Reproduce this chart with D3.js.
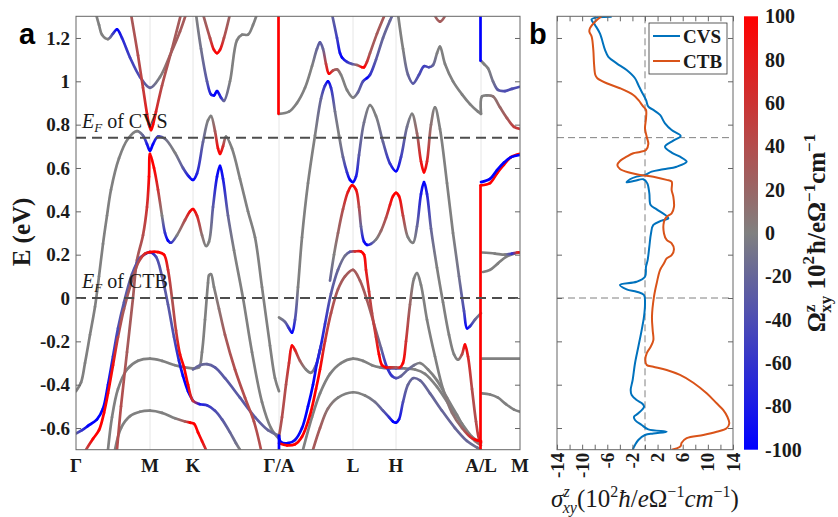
<!DOCTYPE html>
<html><head><meta charset="utf-8">
<script src="https://cdn.jsdelivr.net/npm/d3@7"></script>
<style>body{margin:0;background:#fff}svg{display:block}</style>
</head><body>
<svg id="chart" width="838" height="517"></svg>
<script>
// ---------------- DATA ----------------
const kPoints = [0, 0.74, 1.17, 2.03, 2.77, 3.20, 4.05, 4.44];
const kLabels = ["Γ", "M", "K", "Γ/A", "L", "H", "A/L", "M"];
const eTicks = [-0.6, -0.4, -0.2, 0, 0.2, 0.4, 0.6, 0.8, 1, 1.2];
const fermiLevels = [0.74, 0];
const fermiNames = ["CVS", "CTB"];
const sigmaTicks = [-14,-12,-10,-8,-6,-4,-2,0,2,4,6,8,10,12,14];
const sigmaLabels = [-14,-10,-6,-2,2,6,10,14];
const cbTicks = [100,80,60,40,20,0,-20,-40,-60,-80,-100];

// bands: [k, E (eV), Omega]
const band1 = [[0.20,1.31,0],[0.23,1.26,0],[0.26,1.215,0],[0.32,1.195,0],[0.37,1.22,-50],[0.41,1.24,-100],[0.46,1.2,-70],[0.54,1.11,-50],[0.64,1.02,-40],[0.74,0.97,-20],[0.84,1.02,0],[0.94,1.12,20],[1.04,1.23,30],[1.10,1.31,30]];
const band2 = [[0.55,1.31,30],[0.62,1.12,40],[0.67,0.97,50],[0.71,0.85,80],[0.73,0.80,100],[0.75,0.775,100],[0.77,0.80,100],[0.80,0.86,70],[0.86,0.98,40],[0.96,1.15,30],[1.05,1.31,30]];
const band3 = [[1.27,1.31,20],[1.34,1.2,40],[1.38,1.145,90],[1.41,1.13,100],[1.44,1.145,90],[1.48,1.2,40],[1.54,1.31,20]];
const band4 = [[1.20,1.31,0],[1.25,1.15,-10],[1.31,1.0,-30],[1.35,0.94,-80],[1.38,0.935,-100],[1.41,0.955,-100],[1.45,0.925,-60],[1.48,0.91,-20],[1.54,1.0,0],[1.61,1.19,0],[1.66,1.215,0],[1.72,1.215,0],[1.77,1.26,0],[1.81,1.31,0]];
const band5 = [[0,-0.43,0],[0.05,-0.39,0],[0.09,-0.3,0],[0.14,-0.17,0],[0.19,-0.04,0],[0.23,0.1,0],[0.27,0.25,0],[0.31,0.38,0],[0.35,0.5,0],[0.43,0.645,0],[0.52,0.735,0],[0.61,0.77,0],[0.67,0.75,-20],[0.71,0.71,-80],[0.74,0.68,-100],[0.77,0.71,-100],[0.82,0.745,-50],[0.89,0.735,-10],[0.99,0.67,0],[1.07,0.6,-30],[1.13,0.56,-80],[1.17,0.545,-100],[1.21,0.575,-70],[1.27,0.72,-20],[1.32,0.82,0],[1.35,0.84,0],[1.39,0.77,30],[1.42,0.69,90],[1.44,0.665,100],[1.47,0.70,60],[1.50,0.745,0],[1.56,0.69,0],[1.64,0.55,0],[1.72,0.4,0],[1.79,0.28,0],[1.86,0.05,0],[1.94,-0.22,0],[1.99,-0.37,0],[2.03,-0.43,0]];
const band6 = [[0.41,-0.70,40],[0.45,-0.5,40],[0.51,-0.25,30],[0.57,0.0,30],[0.61,0.175,30],[0.67,0.29,40],[0.71,0.42,60],[0.73,0.56,100],[0.74,0.665,100],[0.78,0.6,100],[0.82,0.5,60],[0.86,0.38,0],[0.89,0.3,-60],[0.92,0.265,-100],[0.95,0.255,-60],[1.01,0.29,0],[1.09,0.36,40],[1.14,0.40,90],[1.17,0.41,100],[1.21,0.38,70],[1.26,0.29,10],[1.30,0.24,0],[1.33,0.26,0],[1.37,0.42,-30],[1.41,0.56,-90],[1.44,0.61,-100],[1.47,0.55,-80],[1.52,0.38,-20],[1.58,0.22,0],[1.67,0.0,0],[1.76,-0.25,0],[1.86,-0.48,0],[1.95,-0.6,0],[2.03,-0.65,0]];
const band7 = [[0,-0.625,-30],[0.06,-0.61,-60],[0.12,-0.59,-100],[0.21,-0.56,-100],[0.27,-0.51,-100],[0.32,-0.4,-90],[0.37,-0.27,-60],[0.42,-0.14,-40],[0.48,-0.02,-30],[0.56,0.11,-30],[0.64,0.185,-40],[0.70,0.205,-60],[0.74,0.212,-90],[0.80,0.19,-40],[0.86,0.1,-30],[0.92,-0.03,-30],[0.98,-0.18,-40],[1.03,-0.29,-70],[1.07,-0.36,-100],[1.12,-0.43,-100],[1.17,-0.475,-100]];
const band8 = [[0.10,-0.70,40],[0.17,-0.65,100],[0.23,-0.61,100],[0.28,-0.53,100],[0.32,-0.44,100],[0.37,-0.31,90],[0.42,-0.18,45],[0.48,-0.05,30],[0.56,0.08,30],[0.63,0.17,40],[0.69,0.205,70],[0.74,0.212,100],[0.82,0.212,100],[0.88,0.2,100],[0.92,0.13,60],[0.96,0.0,35],[1.00,-0.15,50],[1.04,-0.26,90],[1.08,-0.32,100],[1.12,-0.4,100],[1.17,-0.475,60],[1.24,-0.49,-80],[1.31,-0.495,-60],[1.39,-0.52,-40],[1.46,-0.56,-30],[1.54,-0.62,-20],[1.60,-0.67,-10],[1.64,-0.70,0]];
const band9 = [[0.32,-0.70,0],[0.36,-0.55,0],[0.42,-0.42,0],[0.51,-0.33,0],[0.62,-0.29,0],[0.74,-0.28,0],[0.86,-0.29,0],[0.99,-0.31,0],[1.09,-0.32,0],[1.17,-0.325,0],[1.23,-0.32,0],[1.26,-0.25,0],[1.29,-0.1,0],[1.32,0.07,0],[1.33,0.105,0],[1.35,0.11,0],[1.38,0.05,0],[1.43,-0.05,10],[1.49,-0.17,30],[1.59,-0.33,40],[1.69,-0.46,40],[1.78,-0.57,40],[1.85,-0.70,40]];
const band10 = [[1.17,-0.33,-20],[1.24,-0.31,-20],[1.31,-0.305,-20],[1.39,-0.32,-30],[1.49,-0.37,-30],[1.64,-0.46,-30],[1.79,-0.55,-30],[1.92,-0.61,-20],[2.03,-0.635,-10]];
const band11 = [[0.39,-0.70,0],[0.45,-0.6,0],[0.54,-0.545,0],[0.64,-0.525,0],[0.74,-0.52,0],[0.86,-0.53,0],[0.99,-0.555,0],[1.09,-0.57,30],[1.14,-0.575,100],[1.18,-0.58,100],[1.22,-0.62,100],[1.26,-0.66,90],[1.30,-0.70,60]];
const band12 = [[2.025,1.31,100],[2.025,0.85,100]];
const band13 = [[2.03,0.85,0],[2.13,0.86,0],[2.21,0.9,0],[2.29,0.97,0],[2.36,1.07,0],[2.41,1.15,-20],[2.44,1.18,-30],[2.47,1.15,-20],[2.50,1.08,50],[2.53,1.035,100],[2.57,1.05,40],[2.61,1.055,20],[2.65,1.03,0],[2.71,0.96,0],[2.77,0.925,0],[2.82,0.95,-20],[2.87,1.0,-40],[2.91,1.015,-100],[2.94,1.03,-60],[3.00,1.1,-30],[3.07,1.2,-20],[3.14,1.28,-20],[3.17,1.31,-20]];
const band14 = [[2.56,1.31,-20],[2.61,1.2,-50],[2.64,1.13,-90],[2.66,1.11,-100],[2.71,1.09,-60],[2.76,1.08,-30],[2.81,1.075,20],[2.86,1.065,100],[2.88,1.065,100],[2.91,1.09,60],[2.94,1.13,30],[3.01,1.22,30],[3.09,1.31,30]];
const band15 = [[3.22,1.31,0],[3.27,1.15,0],[3.32,1.03,-20],[3.37,0.99,-30],[3.43,1.03,-40],[3.48,1.07,-50],[3.53,1.065,-40],[3.57,1.075,-20],[3.61,1.13,0],[3.64,1.16,0],[3.69,1.08,0],[3.77,1.0,0],[3.86,0.94,0],[3.94,0.895,0],[4.02,0.86,0],[4.05,0.85,0]];
const band16 = [[3.58,1.31,20],[3.64,1.275,30],[3.70,1.31,20]];
const band17 = [[2.03,-0.09,0],[2.09,-0.11,-20],[2.13,-0.14,-60],[2.16,-0.16,-100],[2.19,-0.1,-40],[2.22,0.05,0],[2.26,0.28,0],[2.32,0.53,0],[2.39,0.75,0],[2.45,0.92,-20],[2.49,0.98,-60],[2.52,1.0,-100],[2.55,0.97,-60],[2.59,0.86,-10],[2.63,0.75,0],[2.67,0.65,-20],[2.71,0.58,-60],[2.74,0.545,-100],[2.77,0.535,-100],[2.80,0.56,-80],[2.83,0.66,-30],[2.88,0.81,-10],[2.94,0.89,0],[3.00,0.84,0],[3.07,0.72,-20],[3.14,0.62,-60],[3.20,0.585,-100],[3.25,0.65,-50],[3.31,0.79,-10],[3.36,0.85,0],[3.41,0.76,20],[3.45,0.63,80],[3.48,0.58,100],[3.51,0.63,70],[3.55,0.8,10],[3.59,0.88,0],[3.64,0.78,0],[3.71,0.53,0],[3.77,0.3,0],[3.83,0.1,-10],[3.88,-0.06,-40],[3.91,-0.14,-100],[3.94,-0.13,-60],[3.99,-0.1,-20],[4.05,-0.07,0]];
const band18 = [[2.03,-0.64,30],[2.06,-0.55,40],[2.10,-0.4,40],[2.13,-0.3,60],[2.16,-0.22,100],[2.19,-0.24,70],[2.24,-0.29,30],[2.30,-0.33,0],[2.35,-0.345,0],[2.40,-0.31,-30],[2.44,-0.24,-80],[2.49,-0.12,-60],[2.55,0.02,-30],[2.62,0.13,-20],[2.69,0.195,-10],[2.74,0.213,-30],[2.79,0.215,60],[2.85,0.215,100],[2.88,0.2,100],[2.90,0.13,80],[2.93,0.03,60],[2.96,-0.07,40],[3.00,-0.18,60],[3.03,-0.26,100],[3.06,-0.31,100],[3.10,-0.32,100],[3.15,-0.32,60],[3.20,-0.32,30],[3.24,-0.32,80],[3.27,-0.3,100],[3.30,-0.2,60],[3.34,-0.03,20],[3.38,0.09,0],[3.41,0.115,0],[3.45,0.06,0],[3.51,-0.1,0],[3.59,-0.27,0],[3.67,-0.42,0],[3.76,-0.53,10],[3.86,-0.6,20],[3.94,-0.64,60],[4.00,-0.655,100],[4.05,-0.66,100]];
const band19 = [[2.54,0.08,-20],[2.58,0.2,0],[2.62,0.3,20],[2.67,0.41,40],[2.72,0.49,80],[2.76,0.52,100],[2.80,0.5,90],[2.83,0.42,40],[2.85,0.33,-20],[2.88,0.26,-90],[2.91,0.245,-100],[2.95,0.25,-40],[3.00,0.27,0],[3.05,0.31,20],[3.10,0.37,40],[3.14,0.43,80],[3.17,0.47,100],[3.20,0.485,100],[3.23,0.47,100],[3.27,0.38,50],[3.32,0.28,0],[3.37,0.255,0],[3.41,0.33,-20],[3.45,0.48,-80],[3.48,0.535,-100],[3.51,0.48,-70],[3.55,0.32,-20],[3.61,0.14,0],[3.67,-0.02,0],[3.73,-0.17,0],[3.78,-0.26,0],[3.82,-0.285,0],[3.86,-0.26,40],[3.89,-0.215,100],[3.92,-0.27,70],[3.96,-0.42,40],[4.00,-0.57,40],[4.03,-0.65,60],[4.05,-0.665,80]];
const band20 = [[2.03,-0.64,-100],[2.05,-0.665,-100],[2.12,-0.67,-100],[2.19,-0.655,-90],[2.26,-0.6,-100],[2.32,-0.5,-100],[2.37,-0.4,-100],[2.41,-0.3,-80],[2.45,-0.22,-60]];
const band21 = [[2.03,-0.67,100],[2.11,-0.68,100],[2.19,-0.675,100],[2.26,-0.64,100],[2.34,-0.54,100],[2.40,-0.42,100],[2.44,-0.33,100],[2.49,-0.2,60],[2.55,-0.07,40],[2.62,0.04,30],[2.69,0.1,30],[2.77,0.13,30],[2.84,0.08,30],[2.91,-0.01,30],[2.98,-0.12,20],[3.05,-0.23,-20],[3.11,-0.32,-60],[3.16,-0.36,-60],[3.20,-0.37,-40],[3.25,-0.36,-20],[3.32,-0.33,-20],[3.38,-0.31,-10],[3.44,-0.3,0],[3.52,-0.33,0],[3.61,-0.38,0],[3.71,-0.46,0],[3.81,-0.54,0],[3.91,-0.62,0],[3.99,-0.66,10],[4.05,-0.68,20]];
const band22 = [[2.27,-0.70,0],[2.36,-0.55,0],[2.44,-0.44,0],[2.54,-0.35,0],[2.65,-0.3,0],[2.77,-0.28,0],[2.87,-0.29,0],[2.96,-0.31,0],[3.04,-0.32,0],[3.14,-0.325,-30],[3.20,-0.325,-40],[3.29,-0.325,0],[3.39,-0.33,0],[3.49,-0.35,0],[3.61,-0.41,0],[3.74,-0.5,0],[3.86,-0.58,0],[3.96,-0.64,0],[4.05,-0.67,0]];
const band23 = [[2.37,-0.70,30],[2.44,-0.6,30],[2.52,-0.51,10],[2.62,-0.46,0],[2.77,-0.435,0],[2.89,-0.45,0],[2.99,-0.48,-10],[3.07,-0.52,-30],[3.13,-0.55,-60],[3.17,-0.57,-100],[3.20,-0.575,-100],[3.23,-0.56,-90],[3.27,-0.48,-40],[3.32,-0.4,-20],[3.37,-0.37,-20],[3.44,-0.38,-20],[3.54,-0.44,-20],[3.66,-0.52,-20],[3.79,-0.6,-20],[3.91,-0.66,-20],[4.01,-0.69,-10],[4.05,-0.70,0]];
const band24 = [[2.03,-0.635,-100],[2.03,-0.70,-100]];
const band25 = [[4.045,1.31,-100],[4.045,1.095,-100]];
const band26 = [[4.05,1.095,0],[4.08,1.08,0],[4.12,1.06,0],[4.17,1.0,-10],[4.22,0.96,-30],[4.29,0.955,-40],[4.36,0.965,-40],[4.44,0.975,-40]];
const band27 = [[4.05,0.85,0],[4.06,0.93,0],[4.11,0.935,0],[4.17,0.93,10],[4.24,0.88,20],[4.31,0.83,30],[4.38,0.79,50],[4.44,0.78,60]];
const band28 = [[4.045,0.52,100],[4.045,-0.70,100]];
const band29 = [[4.05,0.52,100],[4.14,0.53,100],[4.21,0.575,100],[4.28,0.615,100],[4.35,0.65,100],[4.44,0.665,100]];
const band30 = [[4.05,0.535,-100],[4.14,0.55,-100],[4.21,0.59,-100],[4.28,0.625,-100],[4.35,0.65,-100],[4.44,0.66,-100]];
const band31 = [[4.06,0.21,0],[4.19,0.205,0],[4.29,0.2,0],[4.36,0.205,-60],[4.41,0.21,60],[4.44,0.21,100]];
const band32 = [[4.07,0.12,0],[4.14,0.13,0],[4.22,0.16,0],[4.30,0.19,0],[4.38,0.205,0],[4.44,0.21,0]];
const band33 = [[4.06,-0.28,0],[4.44,-0.28,0]];
const band34 = [[4.06,-0.44,0],[4.14,-0.445,0],[4.22,-0.46,0],[4.30,-0.49,0],[4.38,-0.515,0],[4.44,-0.525,0]];
const bands = [band1,band2,band3,band4,band5,band6,band7,band8,band9,band10,band11,band12,band13,band14,band15,band16,band17,band18,band19,band20,band21,band22,band23,band24,band25,band26,band27,band28,band29,band30,band31,band32,band33,band34];

// panel b: sigma_xy^z vs E
const cvsE = [1.298,1.286,1.26,1.22,1.145,1.113,1.083,1.052,1.014,0.983,0.952,0.914,0.883,0.868,0.845,0.806,0.775,0.748,0.726,0.698,0.671,0.652,0.629,0.606,0.594,0.583,0.568,0.56,0.548,0.534,0.541,0.548,0.529,0.483,0.429,0.409,0.368,0.357,0.337,0.298,0.237,0.175,0.145,0.098,0.075,0.06,0.04,0.029,0.014,-0.025,-0.086,-0.148,-0.225,-0.301,-0.378,-0.425,-0.448,-0.471,-0.489,-0.502,-0.532,-0.548,-0.563,-0.586,-0.606,-0.617,-0.625,-0.632,-0.655,-0.678,-0.694,-0.71];
const cvsSigma = [-5.3,-8.5,-7.95,-7.16,-6.36,-5.83,-4.51,-2.92,-1.59,-1.06,-0.53,0.16,0.53,1.33,2.39,3.18,4.24,5.67,4.5,3.18,4.24,5.57,6.63,5.04,2.92,1.06,0,-1.33,-2.39,-2.92,-1.59,-0.27,0.37,0.69,0.9,1.86,3.71,2.65,1.33,0.95,0.69,0.42,0.16,0,-1.33,-3.98,-2.92,-1.33,-0.16,0,-0.16,-0.53,-1.06,-1.59,-1.96,-2.28,-2.12,-1.33,-0.37,-0.16,-1.06,-1.75,-1.59,-0.53,0.53,3.45,1.33,0,-1.06,-1.59,-1.86,-2.0];
const ctbE = [1.3,1.275,1.245,1.229,1.206,1.144,1.083,1.029,1.014,0.991,0.968,0.937,0.914,0.883,0.868,0.829,0.783,0.744,0.711,0.683,0.674,0.668,0.652,0.632,0.614,0.595,0.578,0.568,0.56,0.545,0.537,0.498,0.467,0.421,0.391,0.375,0.352,0.298,0.268,0.252,0.225,0.198,0.183,0.16,0.129,0.068,0.006,-0.086,-0.148,-0.194,-0.225,-0.255,-0.286,-0.309,-0.317,-0.332,-0.355,-0.391,-0.44,-0.486,-0.517,-0.548,-0.578,-0.601,-0.617,-0.632,-0.647,-0.668,-0.683,-0.694,-0.70];
const ctbSigma = [-6.9,-7.95,-8.75,-8.85,-8.48,-8.22,-8.11,-7.9,-7.58,-6.1,-3.98,-1.86,-1.06,-0.27,0.16,0.16,0,0.27,0.53,0.16,-0.8,-1.86,-2.92,-3.98,-4.4,-3.98,-2.39,-0.8,1.33,3.45,4.24,4.24,4.51,4.61,4.24,3.45,3.02,3.02,3.45,4.24,4.61,4.24,3.45,3.02,2.39,1.86,1.43,1.11,1.22,1.33,0.9,0.27,0.05,0.27,1.33,3.45,5.57,7.69,9.81,11.4,12.46,13.1,13.41,12.99,11.4,9.28,6.63,5.83,5.67,5.04,4.24];

// ---------------- DRAW ----------------
const serif = "'Liberation Serif','Times New Roman',serif";
const txtCol = "#1a1a1a", axCol = "#666";
const svg = d3.select("#chart");
const defs = svg.append("defs");
const T = 16.3, B = 449.7;
const xA = d3.scaleLinear().domain([0, 4.44]).range([76, 520]);
const yE = d3.scaleLinear().domain([-0.7, 1.3]).range([B, T]);
const xB = d3.scaleLinear().domain([-14, 14]).range([557, 733]);
const yC = d3.scaleLinear().domain([-100, 100]).range([B, T]);
const omegaColor = d3.scaleLinear().domain([-100, 0, 100]).range(["#0000ff", "#808080", "#ff0000"]).clamp(true);
const fmtE = d => String(Math.round(d * 10) / 10);

defs.append("clipPath").attr("id", "clipA").append("rect").attr("x", 76).attr("y", T).attr("width", 444).attr("height", B - T);
defs.append("clipPath").attr("id", "clipB").append("rect").attr("x", 557).attr("y", T).attr("width", 176).attr("height", B - T);

// ---- panel a ----
const gA = svg.append("g");
gA.selectAll("line.grid").data(kPoints.slice(1, -1)).join("line").attr("class", "grid")
  .attr("x1", d => xA(d)).attr("x2", d => xA(d)).attr("y1", T).attr("y2", B)
  .attr("stroke", "#e6e6e6").attr("stroke-width", 1);

const lineGen = d3.line().x(d => xA(d[0])).y(d => yE(d[1])).curve(d3.curveCatmullRom.alpha(0.5));
const segs = [];
bands.forEach(b => {
  const str = lineGen(b);
  const cmds = str.match(/[MLC][^MLC]*/g);
  let cur = null, idx = 0;
  cmds.forEach(c => {
    const nums = c.slice(1).split(/[\s,]+/).filter(s => s.length).map(Number);
    if (c[0] === 'M') { cur = [nums[0], nums[1]]; return; }
    let d, end;
    if (c[0] === 'L') { end = [nums[0], nums[1]]; d = `M${cur[0]},${cur[1]}L${end[0]},${end[1]}`; }
    else { end = [nums[4], nums[5]]; d = `M${cur[0]},${cur[1]}C${nums.join(',')}`; }
    segs.push({ d, x1: cur[0], y1: cur[1], x2: end[0], y2: end[1], c1: b[idx][2], c2: b[idx + 1][2] });
    cur = end; idx++;
  });
});
segs.sort((a, b) => Math.max(Math.abs(a.c1), Math.abs(a.c2)) - Math.max(Math.abs(b.c1), Math.abs(b.c2)));
const gBands = gA.append("g").attr("clip-path", "url(#clipA)");
segs.forEach((s, i) => {
  let stroke;
  if (s.c1 === s.c2 || (Math.abs(s.x1 - s.x2) < 0.01 && Math.abs(s.y1 - s.y2) < 0.01)) {
    stroke = omegaColor((s.c1 + s.c2) / 2);
  } else {
    const gid = "sg" + i;
    const lg = defs.append("linearGradient").attr("id", gid).attr("gradientUnits", "userSpaceOnUse")
      .attr("x1", s.x1).attr("y1", s.y1).attr("x2", s.x2).attr("y2", s.y2);
    lg.append("stop").attr("offset", 0).attr("stop-color", omegaColor(s.c1));
    lg.append("stop").attr("offset", 1).attr("stop-color", omegaColor(s.c2));
    stroke = `url(#${gid})`;
  }
  gBands.append("path").attr("d", s.d).attr("fill", "none").attr("stroke", stroke)
    .attr("stroke-width", 2.7).attr("stroke-linecap", "round");
});

// fermi dashed lines
gA.selectAll("line.ef").data(fermiLevels).join("line").attr("class", "ef")
  .attr("x1", 76).attr("x2", 520).attr("y1", d => yE(d)).attr("y2", d => yE(d))
  .attr("stroke", "#4d4d4d").attr("stroke-width", 2).attr("stroke-dasharray", "10,6");
fermiLevels.forEach((lv, i) => {
  const t = gA.append("text").attr("x", 82).attr("y", yE(lv) - 10)
    .attr("font-family", serif).attr("font-size", 20).attr("fill", txtCol);
  t.append("tspan").attr("font-style", "italic").text("E");
  t.append("tspan").attr("font-style", "italic").attr("font-size", 13).attr("dy", 4).text("F");
  t.append("tspan").attr("dy", -4).text(" of " + fermiNames[i]);
});

// axes box & ticks
gA.append("rect").attr("x", 76).attr("y", T).attr("width", 444).attr("height", B - T)
  .attr("fill", "none").attr("stroke", axCol).attr("stroke-width", 1);
const axL = gA.append("g").attr("transform", "translate(76,0)")
  .call(d3.axisLeft(yE).tickValues(eTicks).tickSize(-5).tickPadding(6).tickFormat(fmtE));
const axR = gA.append("g").attr("transform", "translate(520,0)")
  .call(d3.axisRight(yE).tickValues(eTicks).tickSize(-5).tickFormat(""));
[axL, axR].forEach(a => { a.select(".domain").remove(); a.selectAll("line").attr("stroke", axCol); });
axL.selectAll("text").attr("font-family", serif).attr("font-size", 19).attr("font-weight", "bold").attr("fill", txtCol);

gA.selectAll("text.kl").data(kPoints).join("text").attr("class", "kl")
  .attr("x", d => xA(d)).attr("y", 472).attr("text-anchor", "middle")
  .attr("font-family", serif).attr("font-size", 19).attr("font-weight", "bold").attr("fill", txtCol)
  .text((d, i) => kLabels[i]);

svg.append("text").attr("transform", "translate(30,232) rotate(-90)").attr("text-anchor", "middle")
  .attr("font-family", serif).attr("font-size", 25).attr("font-weight", "bold").attr("fill", txtCol).text("E (eV)");

svg.append("text").attr("x", 19).attr("y", 44).attr("font-family", "'Liberation Sans',Arial,sans-serif")
  .attr("font-size", 29).attr("font-weight", "bold").attr("fill", "#000").text("a");
svg.append("text").attr("x", 529).attr("y", 44).attr("font-family", "'Liberation Sans',Arial,sans-serif")
  .attr("font-size", 29).attr("font-weight", "bold").attr("fill", "#000").text("b");

// ---- panel b ----
const gB = svg.append("g");
gB.selectAll("line.efb").data(fermiLevels).join("line").attr("class", "efb")
  .attr("x1", 557).attr("x2", 733).attr("y1", d => yE(d)).attr("y2", d => yE(d))
  .attr("stroke", "#808080").attr("stroke-width", 1).attr("stroke-dasharray", "7,4");
gB.append("line").attr("x1", xB(0)).attr("x2", xB(0)).attr("y1", T).attr("y2", B)
  .attr("stroke", "#808080").attr("stroke-width", 1).attr("stroke-dasharray", "7,4");

const curveB = d3.line().x(d => xB(d[0])).y(d => yE(d[1])).curve(d3.curveCatmullRom.alpha(0.5));
const gCurves = gB.append("g").attr("clip-path", "url(#clipB)");
gCurves.append("path").attr("d", curveB(cvsSigma.map((s, i) => [s, cvsE[i]])))
  .attr("fill", "none").attr("stroke", "#0072BD").attr("stroke-width", 2);
gCurves.append("path").attr("d", curveB(ctbSigma.map((s, i) => [s, ctbE[i]])))
  .attr("fill", "none").attr("stroke", "#D95319").attr("stroke-width", 2);

gB.append("rect").attr("x", 557).attr("y", T).attr("width", 176).attr("height", B - T)
  .attr("fill", "none").attr("stroke", axCol).attr("stroke-width", 1);
const bL = gB.append("g").attr("transform", "translate(557,0)").call(d3.axisLeft(yE).tickValues(eTicks).tickSize(-5).tickFormat(""));
const bR = gB.append("g").attr("transform", "translate(733,0)").call(d3.axisRight(yE).tickValues(eTicks).tickSize(-5).tickFormat(""));
const bBt = gB.append("g").attr("transform", `translate(0,${B})`).call(d3.axisBottom(xB).tickValues(sigmaTicks).tickSize(-5).tickFormat(""));
const bTp = gB.append("g").attr("transform", `translate(0,${T})`).call(d3.axisTop(xB).tickValues(sigmaTicks).tickSize(-5).tickFormat(""));
[bL, bR, bBt, bTp].forEach(a => { a.select(".domain").remove(); a.selectAll("line").attr("stroke", axCol); });

gB.selectAll("text.sl").data(sigmaLabels).join("text").attr("class", "sl")
  .attr("transform", d => `translate(${xB(d) + 6.5},${B + 3}) rotate(-90)`).attr("text-anchor", "end")
  .attr("font-family", serif).attr("font-size", 19).attr("font-weight", "bold").attr("fill", txtCol)
  .text(d => String(d));

// legend
const lg = gB.append("g");
lg.append("rect").attr("x", 649).attr("y", 23).attr("width", 78).attr("height", 51)
  .attr("fill", "#fff").attr("stroke", "#333").attr("stroke-width", 0.8);
[["CVS", "#0072BD", 36], ["CTB", "#D95319", 61]].forEach(([n, c, yy]) => {
  lg.append("line").attr("x1", 653).attr("x2", 680).attr("y1", yy).attr("y2", yy).attr("stroke", c).attr("stroke-width", 2);
  lg.append("text").attr("x", 683).attr("y", yy + 7).attr("font-family", serif).attr("font-size", 19)
    .attr("font-weight", "bold").attr("fill", txtCol).text(n);
});

// x label panel b
const xl = svg.append("text").attr("x", 645).attr("y", 507).attr("text-anchor", "middle")
  .attr("font-family", serif).attr("font-size", 25).attr("fill", txtCol);
xl.append("tspan").attr("font-style", "italic").text("σ");
xl.append("tspan").attr("font-style", "italic").attr("font-size", 16).attr("dy", -10).text("z");
xl.append("tspan").attr("font-style", "italic").attr("font-size", 16).attr("dx", -7).attr("dy", 16).text("xy");
xl.append("tspan").attr("dy", -6).text("(10");
xl.append("tspan").attr("font-size", 16).attr("dy", -10).text("2");
xl.append("tspan").attr("font-style", "italic").attr("dy", 10).text("ħ");
xl.append("tspan").text("/");
xl.append("tspan").attr("font-style", "italic").text("e");
xl.append("tspan").text("Ω");
xl.append("tspan").attr("font-size", 16).attr("dy", -10).text("−1");
xl.append("tspan").attr("font-style", "italic").attr("dy", 10).text("cm");
xl.append("tspan").attr("font-size", 16).attr("dy", -10).text("−1");
xl.append("tspan").attr("dy", 10).text(")");

// ---- colorbar ----
const cg = defs.append("linearGradient").attr("id", "cbGrad").attr("x1", 0).attr("y1", 1).attr("x2", 0).attr("y2", 0);
cbTicks.slice().reverse().forEach(v => {
  cg.append("stop").attr("offset", (v + 100) / 200).attr("stop-color", omegaColor(v));
});
svg.append("rect").attr("x", 744).attr("y", T).attr("width", 14).attr("height", B - T).attr("fill", "url(#cbGrad)");
svg.selectAll("text.cb").data(cbTicks).join("text").attr("class", "cb")
  .attr("x", 765).attr("y", d => yC(d)).attr("dy", "0.35em")
  .attr("font-family", serif).attr("font-size", 20).attr("font-weight", "bold").attr("fill", txtCol)
  .text(d => String(d));
const cl = svg.append("text").attr("transform", "translate(825,233) rotate(-90)").attr("text-anchor", "middle")
  .attr("font-family", serif).attr("font-size", 25).attr("font-weight", "bold").attr("fill", txtCol);
cl.append("tspan").text("Ω");
cl.append("tspan").attr("font-size", 17).attr("dy", -10).text("z");
cl.append("tspan").attr("font-size", 17).attr("dx", -8).attr("dy", 16).text("xy");
cl.append("tspan").attr("dy", -6).text(" 10");
cl.append("tspan").attr("font-size", 17).attr("dy", -11).text("2");
cl.append("tspan").attr("dx", 2).attr("dy", 11).text("ħ/eΩ");
cl.append("tspan").attr("font-size", 17).attr("dy", -10).text("−1");
cl.append("tspan").attr("dy", 10).text("cm");
cl.append("tspan").attr("font-size", 17).attr("dy", -10).text("−1");
</script>
</body></html>
